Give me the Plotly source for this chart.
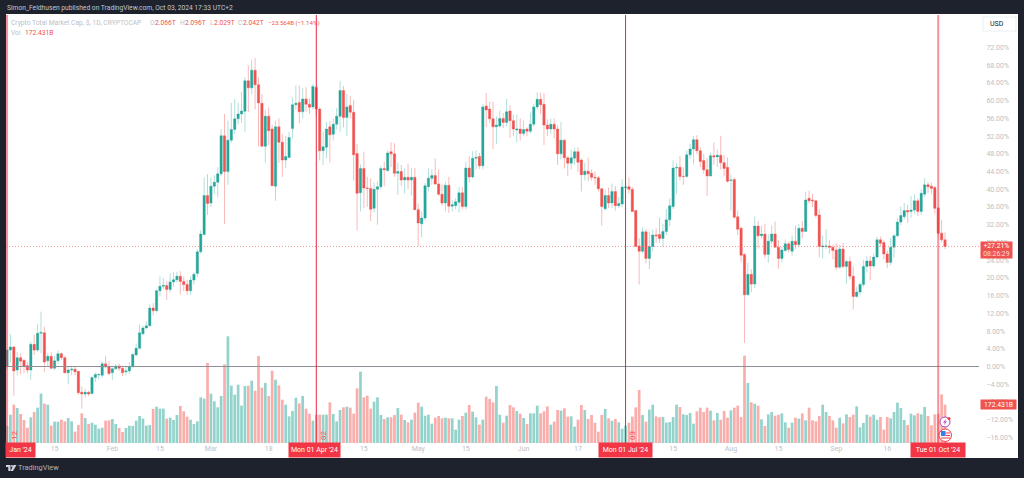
import pandas as pd
import plotly.graph_objects as go

dates = pd.date_range("2024-01-01", periods=277, freq="D")

open_pct = [0,3.7,4.4,-.8,2,1.4,.2,-.8,5,3.7,
7.5,7.6,1.3,2.3,-.4,1.3,2.9,2,-1.4,-.8,
-.6,-1.1,-5.8,-6.2,-5.8,-6.1,-2.5,-1.9,-2,.6,
-.1,-1.4,-.5,.1,-.4,-1.2,-1,-.1,2.6,4.1,
7.4,8.7,9.2,13.2,12.6,17.1,18.1,18.3,17.4,19.1,
19.6,20.4,19.2,18.5,17.1,19.5,21,25.9,29.8,38.6,
36.9,40.7,41.6,43.5,52.1,44,51.1,53.5,55.9,57,
57.6,64.5,62.9,66.9,63.6,59.4,49.7,56.5,53.6,40.7,
54.1,50.6,46.6,47.2,53.7,59.1,59.6,57.5,60.4,59.2,
58.6,63,58.1,48.7,49.5,54.1,52.4,54.7,56.5,62.3,
56.2,58.9,57.4,48.1,39.2,44.7,40.3,40.2,35.7,40,
40.6,44.7,44.2,48.5,48,43.6,44,42.1,42.7,42.1,
42.7,35.4,32.2,33.5,40.6,42.5,43.1,41.2,38.9,36.9,
40.9,36.2,36.3,37.1,39.2,36.1,44.8,42.8,47,47.4,
45.3,58.8,58.1,55.9,54.1,54.3,56,55.1,57.7,55.5,
53.4,53.6,52.6,53.6,53.1,54.7,58.6,60.3,59.2,54.5,
53.6,54.7,53.6,48,51.1,47.1,45.9,47,48.5,46.6,
43.3,44.1,43.6,42.7,42.6,40.1,35.6,38.6,36.9,39.5,
36.3,36.7,40.4,40.6,40,35.2,27.2,26,30.4,24.4,
27.1,29.7,29.8,28.9,30.5,33.1,36.1,44.8,45,42.9,
42.9,47.8,49.1,51.2,48.7,46.5,44.4,43,47.6,47.3,
47.7,46,45,42,42.2,33.8,31.2,25.3,16.2,20.8,
18.6,31.7,29.5,29.9,25.3,28.3,29.9,26.9,24.4,26.2,
27.7,26,28.3,27.5,31.2,30.5,38,37.6,37.4,34.2,
27,27.1,27.2,26.9,26.3,22.4,26.5,22.6,23.7,20.4,
15.8,16.8,18.5,22.6,23.8,22.7,24.7,28.6,28,25.4,
23.5,26.9,29.5,32.6,33.8,35.2,35,35.3,37.4,35,
38.9,41,40.7,40.4,35.8,30.1,28.6]

high_pct = [3.9,7.3,4.6,3.3,3,1.6,1,5.6,7.2,9.5,
12.4,9,3,3.2,2.5,3.6,3.2,2.4,0,0,
0,-1,-4.5,-5,-5.5,-2.2,-1.4,-1.6,1,2.4,
1.2,-.2,.5,.7,-.1,-.1,1,3,5.2,9.5,
9.2,10.2,14,14.3,17.5,20.3,20,19.2,21,21.3,
21.4,21.5,20.3,19.6,20.3,21.4,26.4,30.8,42.7,43.4,
42.7,43.2,45,53.6,57,55.5,59.5,60.4,59.5,62,
65.3,68,69.3,69.6,65.3,61.5,58,58.5,54.5,55.5,
56,52.5,52,53,60.7,63.5,63.4,62.8,63,60.5,
63.8,63.5,58.5,53,55.2,55.4,56,58.4,64.5,63.3,
61.5,61,60.2,50.2,45.6,48.5,42.8,42.5,41.5,41.8,
45.3,46.2,48.8,50.6,50.4,46,45.5,44.7,45.8,44.8,
44.8,36.8,35,41.4,44.7,44.5,47,44.5,41,41.7,
42.8,37.5,38,40.5,40.5,46.2,47.5,48.6,48.8,48.2,
59.2,61.7,59.8,59.8,56.5,57.8,57.2,60.4,59,56.8,
56.8,56,55.5,54,57.3,59.3,61.9,61.8,61.7,55.8,
56,56,54.5,55.2,51.3,47.5,49,49.3,49.5,47,
46,47.2,44.5,44,43,40.3,39.8,40.4,41.3,40.7,
38.3,42.3,43.2,42.7,40.5,35.2,29,31.4,31,30.4,
30.9,31.2,33.6,32.2,35.5,37.9,46.5,46,47.5,45,
48.8,50.2,52.1,52.2,49.5,48,47,48.3,50.6,49,
52.1,47.7,47.2,43.3,42.7,35.2,31.5,25.5,23.4,22,
33.9,32.8,31.8,32.2,29.8,31.8,32.7,28.5,27,28.7,
28.2,29.5,31.8,32.2,32.9,39.5,39.7,39,37.6,35.5,
29.6,31,28.5,27.5,27.8,27.5,27.8,24.1,24.8,22.6,
18,19,24,24.9,25,25.5,29.3,29.3,28.5,26.2,
29,29.8,33.5,36.1,36.9,36.5,38.5,38.9,38,40,
42.5,41.6,41.5,40.7,36,33,30.3]

low_pct = [-.6,1,-6.6,-2,-1.8,-1.5,-1.5,-3,2.6,3.3,
3,-1.3,0,-.6,-.8,.7,1.5,-1.6,-4,-2,
-2,-6.4,-9.5,-7,-6.7,-6.4,-3.5,-2.9,-2.5,-.4,
-1.9,-3,-.8,-1,-2.2,-2,-1.6,-.2,2.5,3.9,
7,8.5,9,11.5,12.2,15.8,17.5,15,16.7,18,
19,16.3,17,16.2,16.2,18.5,20.2,25.4,29.5,34.2,
36,39,38.2,43,32.2,41,50.5,52.4,54.6,55,
53,57.5,61.5,58,49.7,49.7,46,50,40.8,37.4,
46,42.8,44.8,47,51.5,58,54.9,56,57.5,57,
58,56.5,46.5,45.5,47,46,51,53.5,53,54,
52,56,42,30.7,35,35.8,36,32.8,34.8,32,
40,40.7,44,45,42.8,38.7,40.8,39,40,38.6,
35.4,27.2,29.2,33,39.5,41,41,38.5,36.3,35,
34.7,35,35.5,34.8,35.5,35.5,41.5,42.4,44.5,44.6,
44.5,54,55,49.1,50.2,53.8,53.8,54.2,51.6,52,
50.6,51,52,52,52.6,54.2,58,57,50,52,
52.5,51.5,45.5,46.7,44.7,43,44.4,45.5,44,39.5,
42,41.8,42,41,39.5,31.8,35.2,35.8,35.8,35.2,
35.8,36,38,39,35,27,18.5,25.5,23.3,22,
26,28,27.9,27,29.7,31.7,35.5,39,42,41,
42.5,46.9,45.6,48,45,43.5,38.5,42.9,45.5,45,
44.5,43,41.5,35.2,33.4,29.7,23.5,5.3,16,16.8,
17.7,26.6,29,24.5,23.4,27.5,26.8,22.1,23.5,25.8,
25.8,25,26.5,27,29,30.4,36.8,36,33.6,24.7,
24.4,26.5,25.5,24.2,21.8,22.1,22.2,18.7,19.6,12.9,
15.5,16.1,18,21.2,19.5,22.2,24.3,27,24.2,22.2,
22.8,24.6,29.2,31.9,33.2,32.5,33.6,34.5,34,34.2,
38.2,39.2,39,34.5,29.5,28,26.5]

close_pct = [3.7,4.4,-1,2,1.2,0,-.8,5,3.7,7.5,
7.7,1,2.3,-.4,1.3,2.9,2,-1.4,-.8,-.6,
-1.2,-5.9,-6.2,-5.8,-6.2,-2.5,-1.8,-1.8,.6,-.1,
-1.6,-.5,.1,-.4,-1.4,-1,-.1,2.7,4.1,7.6,
8.7,9.2,13.2,12.6,17.1,18.1,18.3,17.4,19.1,19.6,
20.4,19.2,18.5,17.1,19.5,20.8,25.9,29.9,38.6,36.8,
40.7,41.6,43.5,52.1,44,51.1,53.5,55.9,57,57.7,
64.5,62.9,66.9,63.6,59.5,49.7,56.5,53.2,40.8,54.1,
50.6,46.6,47.4,51.7,59.1,59.4,57.5,60.4,59.2,58.5,
63.2,58.1,48.7,49.6,53.6,52.3,54.7,56.5,62.3,56.2,
58.6,57.4,47.8,39.1,44.7,40.3,40.2,35.5,40,40.6,
44.7,44.4,48.2,48,43.6,44,42.1,42.7,42.1,42.7,
35.4,32.4,33.5,40.8,42.5,43.1,41.2,38.9,36.9,40.9,
36.2,36.5,37.2,39.2,36.1,44.8,42.8,47,47.2,45.3,
58.6,57.9,55.9,54.1,54.5,56,55.1,57.5,55.5,53.6,
53.6,52.6,53.5,53.1,54.7,58.6,60.3,59.1,54.5,53.6,
54.7,53.6,48,51.1,47.1,45.9,47.1,48.5,46.1,43.3,
44.1,43.5,42.7,42.6,40.1,36.1,38.6,36.9,39.5,36.3,
36.8,40.5,40.5,40,35,27.1,26,30.4,24.4,27.1,
29.7,29.5,28.9,30.5,33.1,36.3,44.8,44.9,42.9,42.9,
47.8,49.1,51.2,48.7,46.3,44.4,43,47.6,47.3,47.7,
46,44.7,41.8,42.1,33.7,31,25.1,16.2,20.8,18.6,
31.7,29.5,29.9,25.3,28.3,29.9,26.9,24.4,26.3,27.7,
26.4,28.3,27.5,31.2,30.5,37.6,37.4,37.4,34.1,27.1,
27.2,27.2,26.9,26.2,22.4,26.5,22.6,23.7,20.4,15.8,
16.8,18.5,22.6,23.8,22.7,24.7,28.6,27.8,25.4,23.5,
26.9,29.5,32.6,34.1,35.2,34.9,35.3,37.4,35,39.1,
41,40.6,40.2,35.7,30.1,28.6,27.1]

volume = [51,85,115,105,87,69,46,77,93,106,
148,118,115,52,64,64,70,65,75,65,
34,54,89,75,57,61,55,43,46,67,
68,72,57,45,33,45,52,51,67,81,
73,52,54,102,109,103,103,73,76,69,
84,111,95,79,70,57,65,137,133,240,
148,125,107,141,236,320,172,145,175,112,
171,172,187,157,261,166,180,141,217,190,
173,130,115,80,96,136,119,141,103,88,
67,85,85,85,85,122,87,65,99,107,
109,106,88,164,214,137,142,103,124,137,
84,72,77,77,84,105,85,69,62,70,
91,121,109,82,85,58,76,81,74,76,
74,74,40,70,81,91,114,94,77,55,
70,139,132,122,171,85,61,82,114,107,
96,88,75,57,89,89,112,89,95,110,
55,64,99,97,104,79,80,49,70,114,
99,72,84,61,34,84,102,74,67,72,
62,43,52,61,79,107,159,84,64,100,
115,80,77,78,61,63,78,115,108,86,
84,90,58,95,106,93,106,97,68,90,
70,96,76,98,106,112,78,262,180,122,
118,112,71,51,86,93,82,85,89,62,
46,61,76,73,89,68,106,68,65,81,
115,93,81,68,46,76,59,86,78,85,
110,47,60,85,79,85,70,78,40,78,
74,93,121,105,69,54,88,83,89,86,
108,81,53,86,88,146,115]

y_ticks = [-16,-12,-8,-4,0,4,8,12,16,20,24,28,32,36,40,44,48,52,56,60,64,68,72]
y_labels = ["−16.00%","−12.00%","−8.00%","−4.00%","0.00%","4.00%","8.00%","12.00%","16.00%","20.00%","24.00%","28.00%",
            "32.00%","36.00%","40.00%","44.00%","48.00%","52.00%","56.00%","60.00%","64.00%","68.00%","72.00%"]
x_tick_dates = ["2024-01-15","2024-02-01","2024-02-15","2024-03-01","2024-03-18","2024-04-15","2024-05-01",
                "2024-05-15","2024-06-01","2024-06-17","2024-07-15","2024-08-01","2024-08-15","2024-09-01","2024-09-16"]
x_tick_labels = ["15","Feb","15","Mar","18","15","May","15","Jun","17","15","Aug","15","Sep","16"]
marked_dates = ["2024-04-01","2024-07-01"]

TEAL, RED = "#26a69a", "#ef5350"
L, R, T, B = 6, 979, 15, 443      # plot area in page pixels
px = lambda v: (v - L) / (R - L)
py = lambda v: (B - v) / (B - T)
FONT = "Roboto, Arial, sans-serif"
GREY = "#bcbfc7"

fig = go.Figure()
fig.add_trace(go.Bar(
    x=dates, y=volume, yaxis="y",
    marker=dict(color=["#93d3cc" if c >= o else "#f9aeac" for o, c in zip(open_pct, close_pct)], line_width=0),
    showlegend=False, hoverinfo="skip"))
fig.add_trace(go.Candlestick(
    x=dates, open=open_pct, high=high_pct, low=low_pct, close=close_pct, yaxis="y2",
    increasing=dict(fillcolor=TEAL, line=dict(color="rgba(38,166,154,0.36)", width=1)),
    decreasing=dict(fillcolor=RED, line=dict(color="rgba(239,83,80,0.40)", width=1)),
    showlegend=False))

shapes = [
    dict(type="rect", xref="paper", yref="paper", x0=px(979), x1=px(1018), y0=py(458), y1=py(14),
         fillcolor="white", line_width=0, layer="below"),
    dict(type="rect", xref="paper", yref="paper", x0=px(6), x1=px(979), y0=py(458), y1=py(14),
         fillcolor="white", line_width=0, layer="below"),
    dict(type="line", xref="paper", yref="y2", x0=0, x1=1, y0=0, y1=0, line=dict(color="#8f8f98", width=1)),
    dict(type="line", xref="paper", yref="y2", x0=0, x1=1, y0=27.1, y1=27.1, line=dict(color="rgba(239,83,80,0.6)", width=1, dash="1px,2px")),
    dict(type="line", xref="x", yref="paper", x0="2024-01-01", x1="2024-01-01", y0=0, y1=1, line=dict(color="rgba(242,54,69,0.55)", width=2)),
    dict(type="line", xref="x", yref="paper", x0="2024-10-01", x1="2024-10-01", y0=0, y1=1, line=dict(color="rgba(242,54,69,0.55)", width=2)),
]
for d in marked_dates:
    shapes.append(dict(type="line", xref="x", yref="paper", x0=d, x1=d, y0=0, y1=1, line=dict(color="#e5263f", width=1)))
# USD box
shapes.append(dict(type="rect", xref="paper", yref="paper", x0=px(983), x1=px(1016), y0=py(31), y1=py(17),
                   fillcolor="white", line=dict(color="#eceef2", width=1)))
# session icons
shapes.append(dict(type="circle", xref="paper", yref="paper", x0=px(940), x1=px(950), y0=py(427), y1=py(417),
                   fillcolor="white", line=dict(color="#ab47bc", width=1)))
shapes.append(dict(type="path", xref="paper", yref="paper",
    path=f"M {px(946.5)} {py(418.5)} L {px(943)} {py(422.5)} L {px(945)} {py(422.5)} L {px(943.5)} {py(425.5)} L {px(947)} {py(421.5)} L {px(945)} {py(421.5)} Z",
    fillcolor="#ab47bc", line_width=0))
shapes.append(dict(type="circle", xref="paper", yref="paper", x0=px(947.5), x1=px(950.5), y0=py(420), y1=py(417),
                   fillcolor="#f23645", line_width=0))
shapes.append(dict(type="circle", xref="paper", yref="paper", x0=px(939), x1=px(951.5), y0=py(441.5), y1=py(429),
                   fillcolor="white", line=dict(color="#f23645", width=1)))
shapes.append(dict(type="rect", xref="paper", yref="paper", x0=px(941), x1=px(945.5), y0=py(436), y1=py(431),
                   fillcolor="#2f80ed", line_width=0))
for yy in (433, 435.5, 438):
    shapes.append(dict(type="line", xref="paper", yref="paper", x0=px(945.5 if yy < 436 else 941), x1=px(950), y0=py(yy), y1=py(yy),
                       line=dict(color="#f23645", width=1)))
# TradingView logo
shapes.append(dict(type="path", xref="paper", yref="paper",
    path=f"M {px(6)} {py(465)} L {px(10.5)} {py(465)} L {px(10.5)} {py(471)} L {px(8.3)} {py(471)} L {px(8.3)} {py(467)} L {px(6)} {py(467)} Z",
    fillcolor="#d1d4dc", line_width=0))
shapes.append(dict(type="path", xref="paper", yref="paper",
    path=f"M {px(13.5)} {py(465)} L {px(16.5)} {py(465)} L {px(13)} {py(471)} L {px(10.5)} {py(471)} Z",
    fillcolor="#d1d4dc", line_width=0))
shapes.append(dict(type="circle", xref="paper", yref="paper", x0=px(11), x1=px(13), y0=py(467), y1=py(465),
                   fillcolor="#d1d4dc", line_width=0))

ann = []
def text(x, y, s, color=GREY, size=6.7, anchor="left", **kw):
    ann.append(dict(xref="paper", yref="paper", x=px(x), y=py(y), text=s, showarrow=False,
                    xanchor=anchor, yanchor="middle", align=anchor,
                    font=dict(color=color, size=size, family=FONT), borderpad=0, **kw))

text(6, 8, "Simon_Feldhusen published on TradingView.com, Oct 03, 2024 17:33 UTC+2", "#c3c6ce", 6.7)
text(10, 23.5, "Crypto Total Market Cap, $, 1D, CRYPTOCAP")
for x, s in [(149, "O"), (179, "H"), (209, "L"), (237, "C")]:
    text(x, 23.5, s)
for x, s in [(153.5, "2.066T"), (183.5, "2.096T"), (212.5, "2.029T"), (241.5, "2.042T")]:
    text(x, 23.5, s, RED)
text(267, 23.5, "−23.564B (−1.14%)", RED, 6.1)
text(10, 32.5, "Vol")
text(24, 32.5, "172.431B", RED)
text(997, 24, "USD", "#131722", 7, "center")
text(38.5, 468, "TradingView", "#b2b5be", 7.4, "center")

for cx, w, s in [(20.5, 29, "Jan '24"), (314.5, 51, "Mon 01 Apr '24"), (625.5, 53, "Mon 01 Jul '24"), (938, 54, "Tue 01 Oct '24")]:
    ann.append(dict(xref="paper", yref="paper", x=px(cx), y=py(450), text=s, showarrow=False, xanchor="center", yanchor="middle",
                    width=w, height=14, bgcolor="#f23645", borderpad=0, font=dict(color="white", size=7, family=FONT)))
ann.append(dict(xref="paper", yref="paper", x=px(996.5), y=py(250), text="+27.21%<br><span style='color:#fbdcdb'>08:26:29</span>",
                showarrow=False, xanchor="center", yanchor="middle", width=31, height=16, bgcolor=RED, borderpad=0,
                font=dict(color="white", size=6.8, family=FONT)))
ann.append(dict(xref="paper", yref="paper", x=px(998), y=py(404.5), text="172.431B", showarrow=False, xanchor="center", yanchor="middle",
                width=35, height=9, bgcolor=RED, borderpad=0, font=dict(color="white", size=6.8, family=FONT)))
for x, s in [(14, "12"), (323, "02"), (632, "03")]:
    ann.append(dict(xref="paper", yref="paper", x=px(x), y=py(436), text=s, textangle=-90, showarrow=False,
                    xanchor="center", yanchor="middle", font=dict(color="#ef5350", size=8, family=FONT)))

fig.update_layout(
    width=1024, height=478, autosize=False,
    margin=dict(l=L, r=1024 - R, t=T, b=478 - B, pad=0),
    paper_bgcolor="#1e222d", plot_bgcolor="white",
    bargap=0.2, boxgap=0.2, boxgroupgap=0.14, dragmode=False, showlegend=False,
    shapes=shapes, annotations=ann,
    xaxis=dict(type="date", range=["2023-12-31 16:48", "2024-10-13"], rangeslider=dict(visible=False),
               tickvals=x_tick_dates, ticktext=x_tick_labels, showgrid=False, zeroline=False, ticks="",
               tickfont=dict(color=GREY, size=7, family=FONT), tickangle=0, showline=False),
    yaxis=dict(range=[0, 1284], visible=False, fixedrange=True),
    yaxis2=dict(overlaying="y", side="right", range=[-17.269, 79.345], tickvals=y_ticks, ticktext=y_labels,
                showgrid=False, zeroline=False, ticks="outside", ticklen=5, tickcolor="rgba(0,0,0,0)",
                tickfont=dict(color=GREY, size=7, family=FONT), showline=False),
)

fig.write_html("out.html", config=dict(displayModeBar=False, responsive=False),
               post_script="document.body.style.margin='0';document.documentElement.style.overflow='hidden';")
